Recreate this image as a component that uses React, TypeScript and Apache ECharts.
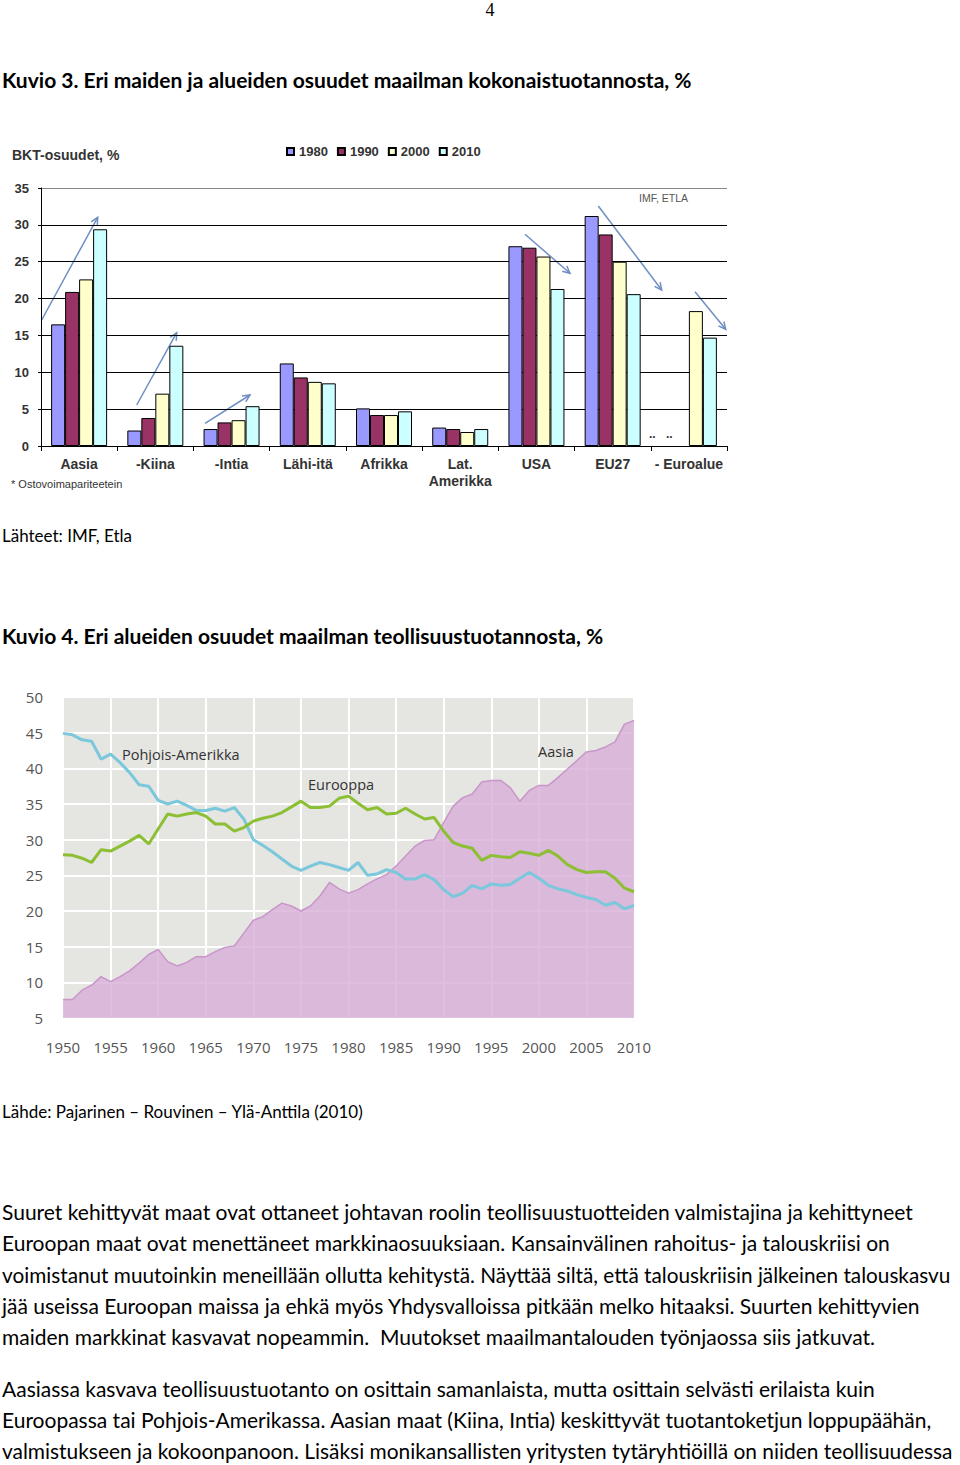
import React, { useEffect, useRef } from "react";
import * as echarts from "echarts";

// ---------- Kuvio 3 data ----------
const barCategories = ["Aasia", "-Kiina", "-Intia", "Lähi-itä", "Afrikka", "Lat.\nAmerikka", "USA", "EU27", "- Euroalue"];
const barYears = ["1980", "1990", "2000", "2010"];
const share1980 = [16.5, 2.1, 2.3, 11.2, 5.1, 2.5, 27.1, 31.2, null];
const share1990 = [20.9, 3.8, 3.2, 9.3, 4.2, 2.3, 26.9, 28.7, null];
const share2000 = [22.6, 7.1, 3.5, 8.7, 4.2, 1.9, 25.7, 25.0, 18.3];
const share2010 = [29.4, 13.6, 5.4, 8.5, 4.7, 2.3, 21.3, 20.6, 14.7];
const barColors = ["#9999ff", "#993366", "#ffffcc", "#ccffff"];

// ---------- Kuvio 4 data (1950..2010, yearly) ----------
const startYear = 1950;
const aasia = [
  7.6, 7.6, 8.9, 9.6, 10.8, 10.1, 10.8, 11.6, 12.7, 13.9,
  14.6, 12.9, 12.3, 12.8, 13.6, 13.6, 14.3, 14.9, 15.1, 16.9,
  18.7, 19.2, 20.2, 21.1, 20.7, 20.0, 20.7, 22.1, 24.0, 23.1,
  22.5, 23.0, 23.8, 24.5, 25.1, 26.3, 27.7, 29.1, 29.9, 30.0,
  32.4, 34.7, 35.9, 36.4, 38.1, 38.3, 38.3, 37.3, 35.4, 36.9,
  37.6, 37.6, 38.7, 39.9, 41.1, 42.3, 42.5, 43.0, 43.7, 46.2,
  46.7,
];
const pohjoisAmerikka = [
  44.9, 44.7, 44.0, 43.8, 41.3, 42.0, 40.8, 39.4, 37.7, 37.5,
  35.5, 35.0, 35.4, 34.8, 34.1, 34.1, 34.4, 34.0, 34.5, 32.9,
  30.0, 29.2, 28.3, 27.3, 26.3, 25.7, 26.3, 26.8, 26.5, 26.1,
  25.7, 26.8, 25.0, 25.2, 25.8, 25.4, 24.5, 24.5, 25.1, 24.4,
  23.0, 22.0, 22.5, 23.6, 23.1, 23.8, 23.6, 23.7, 24.6, 25.4,
  24.6, 23.6, 23.1, 22.8, 22.3, 21.9, 21.6, 20.8, 21.2, 20.3,
  20.8,
];
const eurooppa = [
  27.9, 27.8, 27.4, 26.8, 28.6, 28.4, 29.1, 29.8, 30.6, 29.4,
  31.5, 33.6, 33.3, 33.6, 33.8, 33.3, 32.2, 32.2, 31.2, 31.7,
  32.6, 33.0, 33.3, 33.8, 34.6, 35.4, 34.5, 34.5, 34.7, 35.8,
  36.1, 35.1, 34.2, 34.5, 33.6, 33.7, 34.4, 33.6, 32.9, 33.1,
  31.2, 29.6, 29.1, 28.8, 27.1, 27.8, 27.6, 27.5, 28.3, 28.1,
  27.8, 28.5, 27.7, 26.5, 25.8, 25.4, 25.5, 25.5, 24.6, 23.2,
  22.7,
];

const para1 = [
  "Suuret kehittyvät maat ovat ottaneet johtavan roolin teollisuustuotteiden valmistajina ja kehittyneet",
  "Euroopan maat ovat menettäneet markkinaosuuksiaan. Kansainvälinen rahoitus- ja talouskriisi on",
  "voimistanut muutoinkin meneillään ollutta kehitystä. Näyttää siltä, että talouskriisin jälkeinen talouskasvu",
  "jää useissa Euroopan maissa ja ehkä myös Yhdysvalloissa pitkään melko hitaaksi. Suurten kehittyvien",
  "maiden markkinat kasvavat nopeammin.  Muutokset maailmantalouden työnjaossa siis jatkuvat.",
];
const para2 = [
  "Aasiassa kasvava teollisuustuotanto on osittain samanlaista, mutta osittain selvästi erilaista kuin",
  "Euroopassa tai Pohjois-Amerikassa. Aasian maat (Kiina, Intia) keskittyvät tuotantoketjun loppupäähän,",
  "valmistukseen ja kokoonpanoon. Lisäksi monikansallisten yritysten tytäryhtiöillä on niiden teollisuudessa",
];

const toPairs = (arr: number[]) => arr.map((v, i) => [startYear + i, v]);

function arrow(x1: number, y1: number, x2: number, y2: number) {
  const ang = Math.atan2(y2 - y1, x2 - x1);
  const L = 8;
  const a1 = ang + Math.PI - 0.45;
  const a2 = ang + Math.PI + 0.45;
  const color = "#6f8fc2";
  return {
    type: "group",
    silent: true,
    children: [
      { type: "line", shape: { x1, y1, x2, y2 }, style: { stroke: color, lineWidth: 1.5 } },
      {
        type: "polyline",
        shape: {
          points: [
            [x2 + L * Math.cos(a1), y2 + L * Math.sin(a1)],
            [x2, y2],
            [x2 + L * Math.cos(a2), y2 + L * Math.sin(a2)],
          ],
        },
        style: { stroke: color, lineWidth: 1.5, fill: null },
      },
    ],
  };
}

const chartFont = "'Liberation Sans', Arial, sans-serif";

function BarChart() {
  const ref = useRef<HTMLDivElement>(null);
  useEffect(() => {
    const chart = echarts.init(ref.current!, null, { renderer: "svg" });
    const seriesData = [share1980, share1990, share2000, share2010];
    chart.setOption({
      animation: false,
      title: {
        text: "BKT-osuudet, %",
        left: 12,
        top: 18,
        padding: 0,
        textStyle: { fontFamily: chartFont, fontWeight: "bold", fontSize: 14, color: "#333" },
      },
      legend: {
        data: barYears,
        left: 286,
        top: 15,
        padding: 0,
        icon: "rect",
        itemWidth: 7,
        itemHeight: 7,
        itemGap: 9,
        textStyle: { fontFamily: chartFont, fontWeight: "bold", fontSize: 13, color: "#333" },
      },
      grid: { left: 41, top: 58, width: 686, height: 258 },
      xAxis: {
        type: "category",
        data: barCategories,
        axisLine: { lineStyle: { color: "#000", width: 1 } },
        axisTick: { show: true, length: 5, lineStyle: { color: "#000" } },
        axisLabel: {
          fontFamily: chartFont,
          fontWeight: "bold",
          fontSize: 14,
          color: "#333",
          margin: 9,
          lineHeight: 17,
          interval: 0,
        },
      },
      yAxis: {
        type: "value",
        min: 0,
        max: 35,
        interval: 5,
        axisLine: { show: true, lineStyle: { color: "#000", width: 1 } },
        axisTick: { show: true, length: 3, lineStyle: { color: "#000" } },
        axisLabel: { fontFamily: chartFont, fontWeight: "bold", fontSize: 13, color: "#333", margin: 12 },
        splitLine: {
          lineStyle: { color: ["#000", "#000", "#000", "#000", "#000", "#000", "#000", "#888"], width: 1 },
        },
      },
      series: barYears.map((y, i) => ({
        name: y,
        type: "bar",
        data: seriesData[i],
        barWidth: 14,
        barGap: "0%",
        itemStyle: { color: barColors[i], borderColor: "#000", borderWidth: 1 },
      })),
      graphic: [
        arrow(41.7, 190, 97.7, 87.3),
        arrow(136.7, 275, 176.7, 202.7),
        arrow(205, 293.3, 250, 265),
        arrow(525, 104.3, 570, 143.3),
        arrow(598.3, 76, 661.7, 160),
        arrow(695, 161.7, 725.7, 199.3),
        {
          type: "text",
          left: 639,
          top: 62,
          style: { text: "IMF, ETLA", fontFamily: chartFont, fontSize: 10.5, fill: "#555" },
        },
        { type: "text", x: 649, y: 298, style: { text: "..", fontFamily: chartFont, fontSize: 12, fontWeight: "bold", fill: "#333" } },
        { type: "text", x: 666, y: 298, style: { text: "..", fontFamily: chartFont, fontSize: 12, fontWeight: "bold", fill: "#333" } },
        {
          type: "text",
          left: 11,
          top: 348,
          style: { text: "* Ostovoimapariteetein", fontFamily: chartFont, fontSize: 11, fill: "#333" },
        },
      ],
    });
    return () => chart.dispose();
  }, []);
  return <div ref={ref} style={{ position: "absolute", left: 0, top: 130, width: 760, height: 370 }} />;
}

const lineFont = "'Open Sans', 'Noto Sans', sans-serif";

function LineChart() {
  const ref = useRef<HTMLDivElement>(null);
  useEffect(() => {
    const chart = echarts.init(ref.current!, null, { renderer: "svg" });
    chart.setOption({
      animation: false,
      grid: {
        left: 63,
        top: 17,
        width: 571,
        height: 321,
        show: true,
        backgroundColor: "#e5e5e1",
        borderWidth: 0,
      },
      xAxis: {
        type: "value",
        min: 1950,
        max: 2010,
        interval: 5,
        axisLine: { show: false },
        axisTick: { show: false },
        axisLabel: { fontFamily: lineFont, fontSize: 15, color: "#555", margin: 21, formatter: (v: number) => String(v) },
        splitLine: { show: true, lineStyle: { color: "#ffffff", width: 2 } },
      },
      yAxis: {
        type: "value",
        min: 5,
        max: 50,
        interval: 5,
        axisLine: { show: false },
        axisTick: { show: false },
        axisLabel: { fontFamily: lineFont, fontSize: 15, color: "#555", margin: 20 },
        splitLine: { show: true, lineStyle: { color: "#ffffff", width: 2 } },
      },
      series: [
        {
          name: "Aasia",
          type: "line",
          data: toPairs(aasia),
          symbol: "none",
          lineStyle: { color: "#c896c9", width: 1.5 },
          areaStyle: { color: "#d7aed8", opacity: 0.8 },
        },
        {
          name: "Pohjois-Amerikka",
          type: "line",
          data: toPairs(pohjoisAmerikka),
          symbol: "none",
          lineStyle: { color: "#7bc7dc", width: 3 },
        },
        {
          name: "Eurooppa",
          type: "line",
          data: toPairs(eurooppa),
          symbol: "none",
          lineStyle: { color: "#8cbf33", width: 3 },
        },
      ],
      graphic: [
        { type: "text", x: 122, y: 67, z: 100, style: { text: "Pohjois-Amerikka", fontFamily: lineFont, fontSize: 14.5, fill: "#333" } },
        { type: "text", x: 308, y: 97, z: 100, style: { text: "Eurooppa", fontFamily: lineFont, fontSize: 14.5, fill: "#333" } },
        { type: "text", x: 538, y: 64, z: 100, style: { text: "Aasia", fontFamily: lineFont, fontSize: 14.5, fill: "#333" } },
      ],
    });
    return () => chart.dispose();
  }, []);
  return <div ref={ref} style={{ position: "absolute", left: 0, top: 680, width: 700, height: 390 }} />;
}

const textFont = "Lato, 'Open Sans', sans-serif";

function Line({ top, text, bold, size }: { top: number; text: string; bold?: boolean; size: number }) {
  return (
    <div
      style={{
        position: "absolute",
        left: 2,
        top: top - 13,
        height: 26,
        lineHeight: "26px",
        whiteSpace: "pre",
        fontFamily: textFont,
        fontSize: size,
        fontWeight: bold ? 700 : 400,
        color: "#000",
      }}
    >
      {text}
    </div>
  );
}

export default function App() {
  return (
    <div style={{ position: "absolute", left: 0, top: 0, width: 960, height: 1465, background: "#fff", overflow: "hidden" }}>
      <div
        style={{
          position: "absolute",
          left: 480,
          top: 0,
          width: 20,
          textAlign: "center",
          fontFamily: "'Liberation Serif', serif",
          fontSize: 18,
          lineHeight: "20px",
        }}
      >
        4
      </div>
      <Line top={80} text="Kuvio 3. Eri maiden ja alueiden osuudet maailman kokonaistuotannosta, %" bold size={21} />
      <BarChart />
      <Line top={536} text="Lähteet: IMF, Etla" size={17} />
      <Line top={636} text="Kuvio 4. Eri alueiden osuudet maailman teollisuustuotannosta, %" bold size={21} />
      <LineChart />
      <Line top={1112} text="Lähde: Pajarinen – Rouvinen – Ylä-Anttila (2010)" size={17} />
      {para1.map((t, i) => (
        <Line key={"a" + i} top={1212 + i * 31.3} text={t} size={i === 2 ? 20.75 : 21} />
      ))}
      {para2.map((t, i) => (
        <Line key={"b" + i} top={1389 + i * 31.2} text={t} size={i === 2 ? 20.9 : 21} />
      ))}
    </div>
  );
}
